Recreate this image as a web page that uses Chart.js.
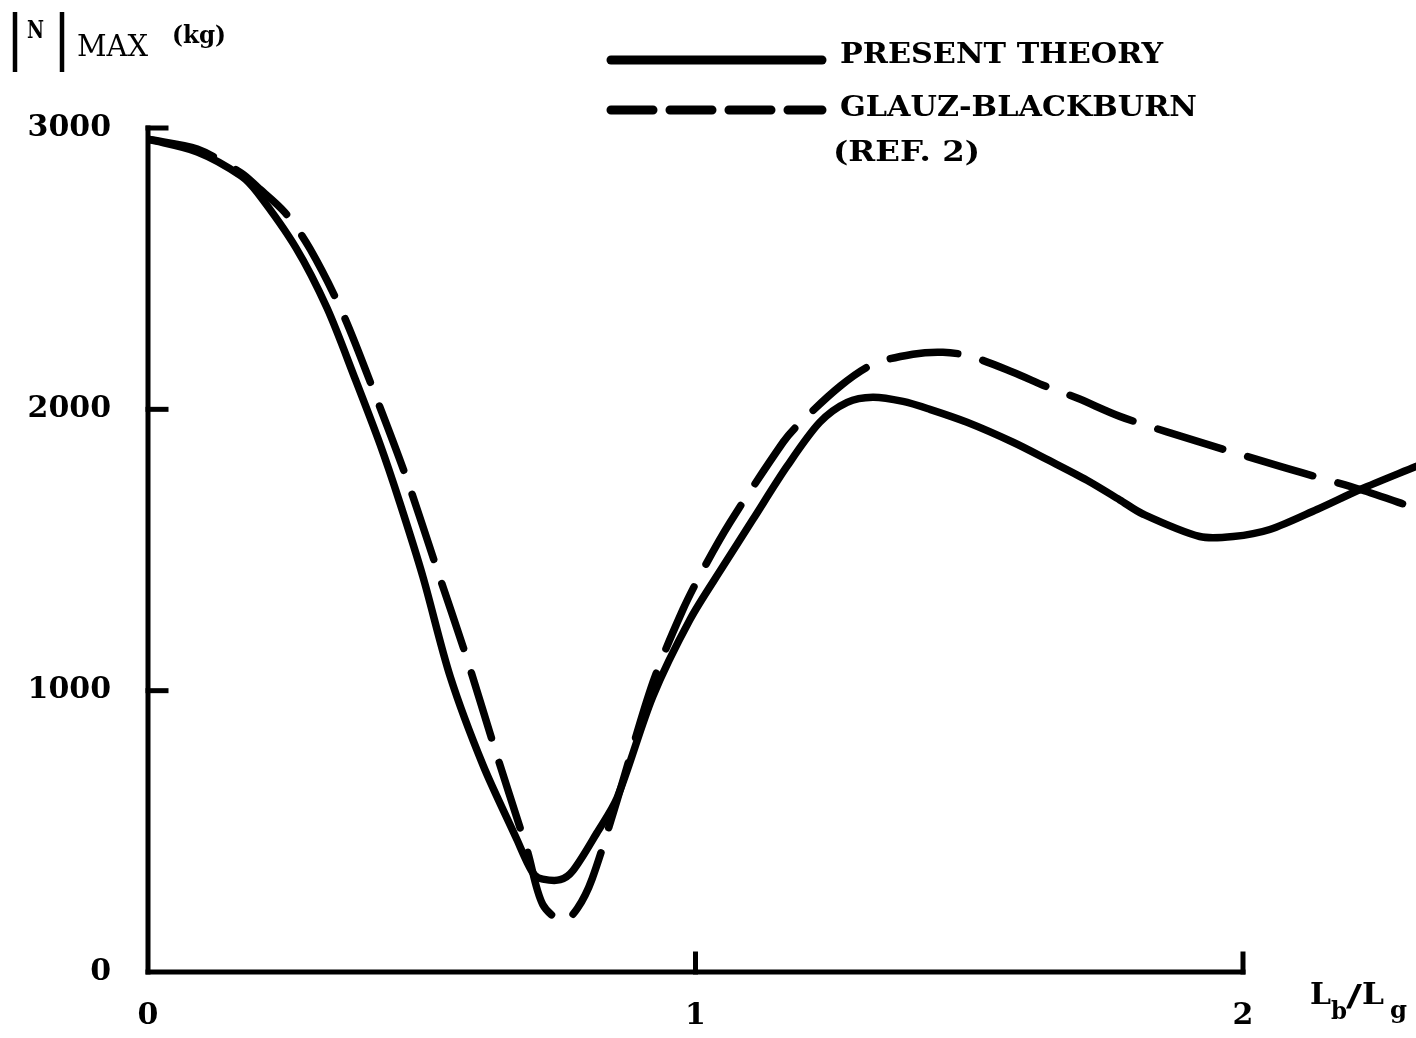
<!DOCTYPE html>
<html>
<head>
<meta charset="utf-8">
<script src="https://cdn.jsdelivr.net/npm/chart.js@4.4.1/dist/chart.umd.min.js"></script>
<style>
    html, body { margin:0; padding:0; background:#fff; }
    #wrap { width:1416px; height:1038px; }
</style>
</head>
<body>
<div id="wrap"><canvas id="chart" width="1416" height="1038"></canvas></div>
<script>
// L_b/L_g against |N| max (kg)
const xTicks = [0, 1, 2];
const yTicks = [0, 1000, 2000, 3000];

const presentX = [0, 0.09, 0.17, 0.2, 0.27, 0.327, 0.378, 0.424, 0.46, 0.502, 0.552, 0.612, 0.674, 0.692, 0.706, 0.721, 0.753, 0.776, 0.82, 0.857, 0.922, 0.99, 1.05, 1.105, 1.167, 1.227, 1.277, 1.324, 1.379, 1.428, 1.496, 1.58, 1.642, 1.715, 1.775, 1.817, 1.921, 1.982, 2.049, 2.135, 2.214, 2.316];
const presentY = [2960, 2915, 2830, 2770, 2575, 2360, 2110, 1875, 1668, 1406, 1050, 735, 470, 392, 345, 330, 328, 360, 495, 620, 979, 1253, 1441, 1609, 1797, 1954, 2025, 2043, 2028, 2000, 1954, 1883, 1822, 1748, 1678, 1628, 1548, 1548, 1573, 1644, 1715, 1797];

const glauzX = [0, 0.09, 0.17, 0.2, 0.25, 0.296, 0.356, 0.418, 0.473, 0.528, 0.579, 0.634, 0.685, 0.694, 0.721, 0.758, 0.784, 0.811, 0.857, 0.922, 0.977, 1.014, 1.063, 1.16, 1.185, 1.264, 1.324, 1.397, 1.452, 1.501, 1.58, 1.642, 1.697, 1.775, 1.861, 2.068, 2.214, 2.316];
const glauzY = [2960, 2925, 2840, 2790, 2700, 2570, 2340, 2036, 1751, 1431, 1135, 790, 480, 423, 240, 180, 225, 330, 612, 1028, 1288, 1431, 1598, 1883, 1940, 2082, 2160, 2196, 2203, 2189, 2132, 2080, 2040, 1975, 1920, 1797, 1715, 1648];

const serif = '"DejaVu Serif", "Liberation Serif", serif';
const ink = '#000';

function toPoints(xs, ys) {
    return xs.map((x, i) => ({ x, y: ys[i] }));
}

// squeeze or stretch a string so it spans the given width
function fitText(ctx, text, x, y, width) {
    const w = ctx.measureText(text).width;
    ctx.save();
    ctx.translate(x, y);
    ctx.scale(width / w, 1);
    ctx.fillText(text, 0, 0);
    ctx.restore();
}

function line(ctx, x1, y1, x2, y2) {
    ctx.beginPath();
    ctx.moveTo(x1, y1);
    ctx.lineTo(x2, y2);
    ctx.stroke();
}

const axesPlugin = {
    id:'axes',
    beforeDatasetsDraw(chart) {
        const { ctx, scales:{ x, y } } = chart;
        const x0 = x.getPixelForValue(0);
        const y0 = y.getPixelForValue(0);

        ctx.save();
        ctx.strokeStyle = ink;
        ctx.lineWidth = 5;
        ctx.lineCap = 'square';

        line(ctx, x0, y.getPixelForValue(3000), x0, y0);
        line(ctx, x0, y0, x.getPixelForValue(2), y0);

        // short ticks pointing into the plot
        yTicks.slice(1).forEach(v => {
            const py = y.getPixelForValue(v);
            line(ctx, x0, py, x0 + 18, py);
        });
        xTicks.slice(1).forEach(v => {
            const px = x.getPixelForValue(v);
            line(ctx, px, y0, px, y0 - 18);
        });
        ctx.restore();
    },
    afterDraw(chart) {
        const { ctx } = chart;
        ctx.save();
        ctx.fillStyle = ink;
        ctx.strokeStyle = ink;
        ctx.textBaseline = 'alphabetic';
        ctx.textAlign = 'left';

        // y axis title |N| MAX (kg)
        ctx.lineWidth = 4.5;
        line(ctx, 15, 12, 15, 72);
        line(ctx, 62, 12, 62, 72);
        ctx.font = `bold 24px ${serif}`;
        fitText(ctx, 'N', 27, 38, 17);
        ctx.font = `30px ${serif}`;
        fitText(ctx, 'MAX', 77, 56, 71);
        ctx.font = `bold 24px ${serif}`;
        fitText(ctx, '(kg)', 172, 43, 54);

        // x axis title Lb/Lg
        ctx.font = `bold 29px ${serif}`;
        fitText(ctx, 'L', 1310, 1004, 21);
        fitText(ctx, '/', 1346, 1006, 16);
        fitText(ctx, 'L', 1362, 1004, 22);
        ctx.font = `bold 24px ${serif}`;
        fitText(ctx, 'b', 1331, 1019, 16);
        fitText(ctx, 'g', 1390, 1018, 17);

        // legend
        ctx.lineWidth = 9;
        ctx.lineCap = 'round';
        line(ctx, 611, 60, 822, 60);
        ctx.setLineDash([42, 17]);
        line(ctx, 611, 110, 822, 110);
        ctx.setLineDash([]);

        ctx.font = `bold 28px ${serif}`;
        fitText(ctx, 'PRESENT THEORY', 840, 63, 323);
        fitText(ctx, 'GLAUZ-BLACKBURN', 840, 116, 357);
        fitText(ctx, '(REF. 2)', 833, 161, 147);
        ctx.restore();
    }
};

const tickFont = { family:serif, size:30, weight:'bold' };

new Chart(document.getElementById('chart'), {
    type:'line',
    data:{
        datasets:[
            {
                label:'PRESENT THEORY',
                data:toPoints(presentX, presentY),
                borderColor:ink,
                borderWidth:7.5,
                borderCapStyle:'round',
                borderJoinStyle:'round',
                pointRadius:0,
                fill:false,
                tension:0.3
            },
            {
                label:'GLAUZ-BLACKBURN (REF. 2)',
                data:toPoints(glauzX, glauzY),
                borderColor:ink,
                borderWidth:7.5,
                borderDash:[68, 26],
                borderCapStyle:'round',
                borderJoinStyle:'round',
                pointRadius:0,
                fill:false,
                tension:0.3
            }
        ]
    },
    options:{
        responsive:false,
        animation:false,
        devicePixelRatio:1,
        layout:{ padding:{ top:128, right:0, left:0, bottom:0 } },
        plugins:{ legend:{ display:false }, tooltip:{ enabled:false } },
        scales:{
            x:{
                type:'linear',
                min:0,
                max:2.316,
                afterBuildTicks(scale) { scale.ticks = xTicks.map(value => ({ value })); },
                afterFit(scale) { scale.height = 66; },
                grid:{ display:false, drawTicks:false },
                border:{ display:false },
                ticks:{ font:tickFont, color:ink, padding:26, maxRotation:0, callback:v => String(v) }
            },
            y:{
                type:'linear',
                min:0,
                max:3000,
                afterBuildTicks(scale) { scale.ticks = yTicks.map(value => ({ value })); },
                afterFit(scale) { scale.width = 148; },
                grid:{ display:false, drawTicks:false },
                border:{ display:false },
                ticks:{ font:tickFont, color:ink, padding:37, callback:v => String(v) }
            }
        }
    },
    plugins:[axesPlugin]
});
</script>
</body>
</html>
